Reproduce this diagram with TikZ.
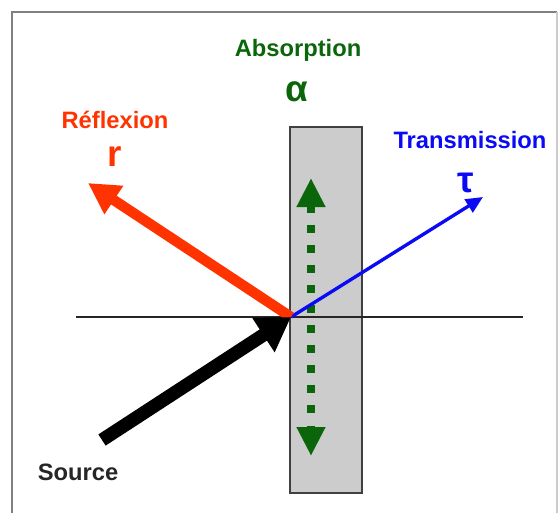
\documentclass[tikz,border=0pt]{standalone}
\usepackage{fontspec}
\setmainfont{Liberation Sans}
\usepackage{tikz}
\usetikzlibrary{arrows.meta}
\definecolor{reflred}{HTML}{FF3300}
\definecolor{transblue}{HTML}{0A0AF5}
\definecolor{absgreen}{HTML}{0B660B}
\definecolor{slabgray}{HTML}{CCCCCC}
\tikzset{lbl/.style={font=\bfseries\fontsize{13.5}{16}\selectfont, inner sep=0pt},
  sym/.style={font=\bfseries\fontsize{21}{24}\selectfont, inner sep=0pt}}

\begin{document}
\begin{tikzpicture}[x=0.02cm,y=-0.02cm]
  \useasboundingbox (0,0) rectangle (559,512);
  % Frame
  \draw[gray, line width=1.2pt] (12,515) -- (12,12) -- (557,12);
  \draw[black!20, line width=1pt] (557,12) -- (557,515);
  % Slab and normal plane
  \filldraw[fill=slabgray, draw=black!75, line width=0.7pt] (290,127) rectangle (362,493);
  \draw[black!85, line width=0.7pt] (76,317) -- (523,317);
  % Points of the rays
  \coordinate (I) at (291,317);
  \coordinate (src) at (102,440);
  \coordinate (refl) at (88,183);
  \coordinate (trans) at (483,197);
  \coordinate (absT) at (311,178);
  \coordinate (absB) at (311,456);
  % Rays
  \draw[absgreen, line width=5pt, dash pattern=on 4.5pt off 6.9pt,
    {Triangle[width=0.54cm,length=0.58cm]}-{Triangle[width=0.54cm,length=0.58cm]}] (absT) -- (absB);
  \draw[transblue, line width=1.9pt, -{Triangle[width=0.3cm,length=0.34cm]}] (I) -- (trans);
  \draw[reflred, line width=5.9pt, -{Triangle[width=0.64cm,length=0.62cm]}] (I) -- (refl);
  \draw[black, line width=7.6pt, -{Triangle[width=0.78cm,length=0.66cm]}] (src) -- (I);
  % Labels
  \node[lbl, text=absgreen] (abs) at (298,50) {Absorption};
  \node[sym, text=absgreen] (alpha) at (297,92) {α};
  \node[lbl, text=reflred] (refllbl) at (115,120) {Réflexion};
  \node[sym, text=reflred] (r) at (115,157) {r};
  \node[lbl, text=transblue] (translbl) at (470,140) {Transmission};
  \node[sym, text=transblue] (tau) at (466,183) {τ};
  \node[lbl, text=black!85] (srclbl) at (78,472) {Source};
\end{tikzpicture}
\end{document}
